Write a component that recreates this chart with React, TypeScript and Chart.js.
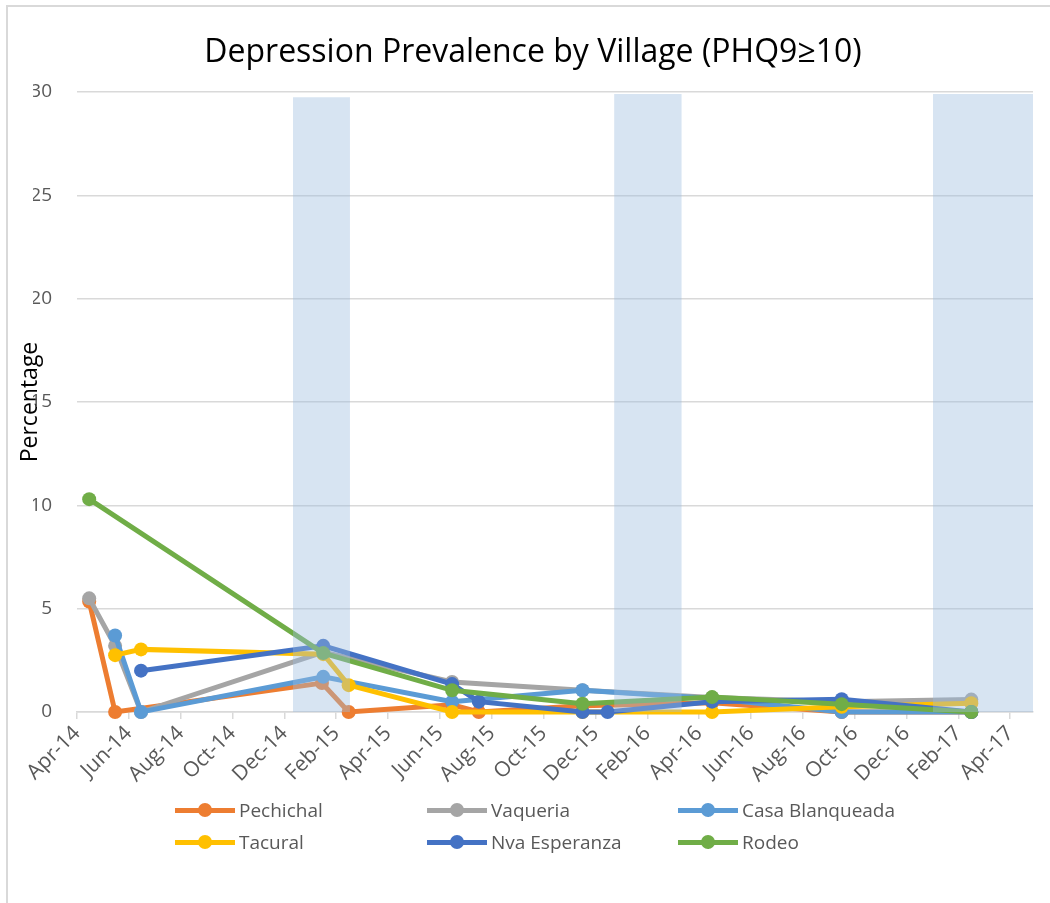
import React, { useEffect, useRef } from "react";
import { Chart, registerables } from "chart.js";

Chart.register(...registerables);

// x values: months since 1 Apr 2014
const tickMonths = [0, 2, 4, 6, 8, 10, 12, 14, 16, 18, 20, 22, 24, 26, 28, 30, 32, 34, 36];
const tickLabels = [
  "Apr-14", "Jun-14", "Aug-14", "Oct-14", "Dec-14", "Feb-15", "Apr-15", "Jun-15", "Aug-15",
  "Oct-15", "Dec-15", "Feb-16", "Apr-16", "Jun-16", "Aug-16", "Oct-16", "Dec-16", "Feb-17", "Apr-17",
];
const yTicks = [0, 5, 10, 15, 20, 25, 30];

const seriesNames = ["Pechichal", "Vaqueria", "Casa Blanqueada", "Tacural", "Nva Esperanza", "Rodeo"];
const seriesColors = ["#ED7D31", "#A5A5A5", "#5B9BD5", "#FFC000", "#4472C4", "#70AD47"];

const pechichalMonths = [0.47, 1.47, 9.45, 10.48, 14.47, 15.5, 19.5, 24.5, 29.5, 34.5];
const pechichalValues = [5.35, 0, 1.4, 0, 0.35, 0, 0.3, 0.45, 0, 0];

const vaqueriaMonths = [0.47, 1.47, 2.47, 9.5, 14.47, 19.5, 24.5, 29.5, 34.5];
const vaqueriaValues = [5.5, 3.2, 0, 2.9, 1.45, 1.05, 0.7, 0.5, 0.6];

const casaMonths = [1.47, 2.47, 9.5, 14.47, 19.5, 24.5, 29.5, 34.5];
const casaValues = [3.7, 0, 1.7, 0.5, 1.05, 0.65, 0, 0];

const tacuralMonths = [1.47, 2.47, 9.5, 10.48, 14.47, 19.5, 24.5, 29.5, 34.5];
const tacuralValues = [2.75, 3.03, 2.8, 1.3, 0, 0, 0, 0.25, 0.42];

const esperanzaMonths = [2.47, 9.5, 14.47, 15.5, 19.5, 20.47, 24.5, 29.5, 34.5];
const esperanzaValues = [2.0, 3.2, 1.35, 0.5, 0, 0, 0.5, 0.62, 0];

const rodeoMonths = [0.47, 9.5, 14.47, 19.5, 24.5, 29.5, 34.5];
const rodeoValues = [10.3, 2.85, 1.05, 0.4, 0.72, 0.38, 0];

const seriesMonths = [pechichalMonths, vaqueriaMonths, casaMonths, tacuralMonths, esperanzaMonths, rodeoMonths];
const seriesValues = [pechichalValues, vaqueriaValues, casaValues, tacuralValues, esperanzaValues, rodeoValues];

// shaded periods (start month, end month, height)
const bandStarts = [8.33, 20.72, 33.02];
const bandEnds = [10.53, 23.33, 36.88];
const bandHeights = [29.75, 29.9, 29.9];

const X_MAX = 36.88;
const FONT = "'Open Sans', sans-serif";

export default function App() {
  const ref = useRef<HTMLCanvasElement>(null);

  useEffect(() => {
    const lineSets = seriesNames.map((name, i) => ({
      type: "line" as const,
      label: name,
      data: seriesMonths[i].map((m, j) => ({ x: m, y: seriesValues[i][j] })),
      borderColor: seriesColors[i],
      backgroundColor: seriesColors[i],
      pointBackgroundColor: seriesColors[i],
      pointBorderColor: seriesColors[i],
      borderWidth: 5,
      pointRadius: 7,
      pointBorderWidth: 0,
      tension: 0,
      fill: false,
      clip: 12,
      order: 10 - i,
    }));
    const bandSets = bandStarts.map((s, i) => ({
      type: "line" as const,
      label: "band" + i,
      data: [
        { x: s, y: 0 },
        { x: s, y: bandHeights[i] },
        { x: bandEnds[i], y: bandHeights[i] },
        { x: bandEnds[i], y: 0 },
      ],
      borderWidth: 0,
      borderColor: "rgba(0,0,0,0)",
      backgroundColor: "rgba(155,187,222,0.4)",
      pointRadius: 0,
      fill: "origin",
      tension: 0,
      order: 0,
    }));

    const chart = new Chart(ref.current as HTMLCanvasElement, {
      type: "line",
      data: { datasets: [...lineSets, ...bandSets] as any },
      options: {
        responsive: false,
        animation: false,
        devicePixelRatio: 1,
        layout: { padding: { left: 33, right: 17, top: 0, bottom: 0 } },
        plugins: {
          legend: { display: false },
          tooltip: { enabled: false },
          title: {
            display: true,
            text: "Depression Prevalence by Village (PHQ9≥10)",
            color: "#000000",
            font: { family: FONT, size: 32, weight: "normal" as any },
            padding: { top: 34, bottom: 19.6 },
          },
        },
        scales: {
          x: {
            type: "linear",
            min: 0,
            max: X_MAX,
            afterBuildTicks: (scale: any) => {
              scale.ticks = tickMonths.map((v) => ({ value: v }));
            },
            afterFit: (scale: any) => {
              scale.height = 800 - 712;
            },
            ticks: {
              autoSkip: false,
              includeBounds: false,
              minRotation: 45,
              maxRotation: 45,
              color: "#595959",
              padding: 2,
              font: { family: FONT, size: 21 },
              callback: (v: any) => {
                const idx = tickMonths.indexOf(Number(v));
                return idx >= 0 ? tickLabels[idx] : "";
              },
            },
            grid: {
              display: true,
              drawOnChartArea: false,
              drawTicks: true,
              tickLength: 7,
              color: "#D9D9D9",
              lineWidth: 1.5,
            },
            border: { display: true, color: "#D9D9D9", width: 1.5 },
          },
          y: {
            type: "linear",
            min: 0,
            max: 30,
            afterBuildTicks: (scale: any) => {
              scale.ticks = yTicks.map((v) => ({ value: v }));
            },
            afterFit: (scale: any) => {
              scale.width = 77 - 33;
            },
            ticks: {
              color: "#595959",
              padding: 25,
              font: { family: FONT, size: 19 },
            },
            grid: {
              color: "#D9D9D9",
              lineWidth: 1.5,
              drawTicks: false,
            },
            border: { display: false },
            title: {
              display: true,
              text: "Percentage",
              color: "#000000",
              font: { family: FONT, size: 23 },
              padding: { top: -16, bottom: 0 },
            },
          },
        },
      },
    });
    return () => chart.destroy();
  }, []);

  const legendCols = [175, 427, 678];
  const legendRows = [810, 842];

  return (
    <div
      style={{
        position: "absolute",
        left: 0,
        top: 0,
        width: 1050,
        height: 903,
        background: "#ffffff",
        overflow: "hidden",
      }}
    >
      <div
        style={{
          position: "absolute",
          left: 6,
          top: 5,
          width: 1100,
          height: 1000,
          border: "2px solid #D9D9D9",
        }}
      />
      <canvas
        ref={ref}
        width={1050}
        height={800}
        style={{ position: "absolute", left: 0, top: 0, width: 1050, height: 800, display: "block" }}
      />
      {seriesNames.map((name, i) => {
        const x0 = legendCols[i % 3];
        const y0 = legendRows[Math.floor(i / 3)];
        return (
          <div key={name}>
            <div
              style={{
                position: "absolute",
                left: x0,
                top: y0 - 2.5,
                width: 60,
                height: 5,
                background: seriesColors[i],
              }}
            />
            <div
              style={{
                position: "absolute",
                left: x0 + 30 - 7,
                top: y0 - 7,
                width: 14,
                height: 14,
                borderRadius: "50%",
                background: seriesColors[i],
              }}
            />
            <div
              style={{
                position: "absolute",
                left: x0 + 64,
                top: y0 - 14,
                height: 28,
                lineHeight: "28px",
                fontFamily: FONT,
                fontSize: 19,
                color: "#595959",
                whiteSpace: "nowrap",
              }}
            >
              {name}
            </div>
          </div>
        );
      })}
    </div>
  );
}
